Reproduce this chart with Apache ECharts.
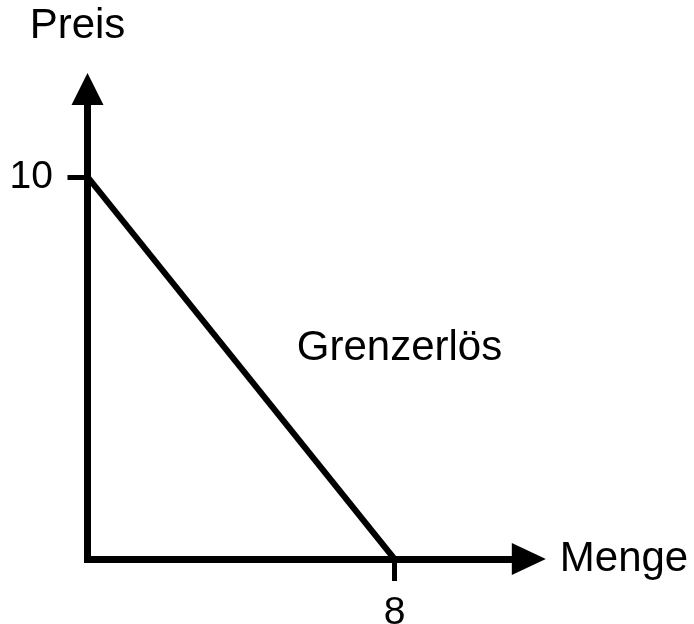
<!DOCTYPE html>
<html>
<head>
<meta charset="utf-8">
<script src="https://cdn.jsdelivr.net/npm/echarts@6/dist/echarts.min.js"></script>
<style>
html,body{margin:0;padding:0;background:#fff;}
#chart{width:694px;height:624px;}
</style>
</head>
<body>
<div id="chart"></div>
<script>
// Data
var mengeValues = [0, 8];
var preisValues = [10, 0];
var xTicks = [8];
var yTicks = [10];
var seriesName = 'Grenzerlös';
var labelPos = [8.13, 5.50];
var xName = 'Menge';
var yName = 'Preis';

var FONT = 'Liberation Sans, Arial, sans-serif';
var chart = echarts.init(document.getElementById('chart'), null, {renderer: 'canvas'});
var lineData = mengeValues.map(function (m, i) { return [m, preisValues[i]]; });

chart.setOption({
  animation: false,
  backgroundColor: '#ffffff',
  grid: {left: 87.5, top: 89, right: 165.2, bottom: 65, containLabel: false, outerBoundsMode: 'none'},
  xAxis: {
    type: 'value', min: 0, max: 11.5,
    name: xName, nameLocation: 'end', nameGap: 31,
    nameTextStyle: {color: '#000', fontSize: 42, fontFamily: FONT, verticalAlign: 'middle', padding: [8, 0, 0, 0]},
    axisLine: {show: true, onZero: false, symbol: ['none', 'triangle'], symbolSize: [32, 34],
      lineStyle: {color: '#000', width: 7, cap: 'square'}},
    axisTick: {show: true, customValues: xTicks, length: 22, inside: false, lineStyle: {color: '#000', width: 5}},
    axisLabel: {show: true, customValues: xTicks, margin: 35, color: '#000', fontSize: 39, fontFamily: FONT},
    splitLine: {show: false}
  },
  yAxis: {
    type: 'value', min: 0, max: 12.3,
    name: yName, nameLocation: 'end', nameGap: 42,
    nameTextStyle: {color: '#000', fontSize: 42, fontFamily: FONT, padding: [0, 20, 0, 0]},
    axisLine: {show: true, onZero: false, symbol: ['none', 'triangle'], symbolSize: [32, 32],
      lineStyle: {color: '#000', width: 7, cap: 'square'}},
    axisTick: {show: true, customValues: yTicks, length: 20, inside: false, lineStyle: {color: '#000', width: 5}},
    axisLabel: {show: true, customValues: yTicks, margin: 34.5, color: '#000', fontSize: 39, fontFamily: FONT, padding: [5, 0, 0, 0]},
    splitLine: {show: false}
  },
  series: [
    {
      type: 'line', name: seriesName, data: lineData,
      symbol: 'none', lineStyle: {color: '#000', width: 6}, z: 1
    },
    {
      type: 'scatter', data: [labelPos], symbolSize: 0,
      itemStyle: {opacity: 1},
      label: {show: true, position: 'inside', formatter: seriesName, color: '#000', fontSize: 42, fontFamily: FONT},
      silent: true
    }
  ]
});
</script>
</body>
</html>
